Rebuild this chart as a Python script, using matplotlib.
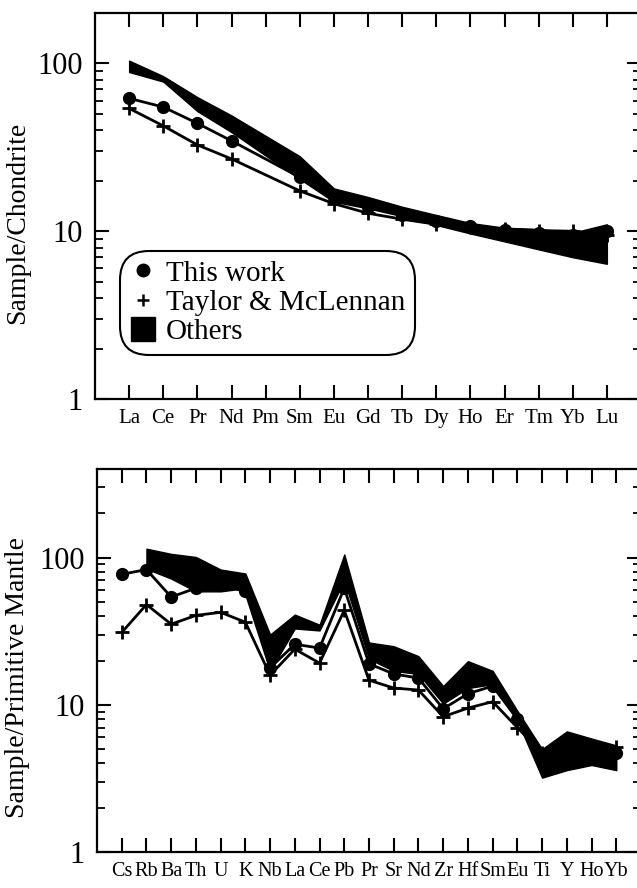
import numpy as np
import matplotlib
matplotlib.use("Agg")
import matplotlib.pyplot as plt
from matplotlib.lines import Line2D
from matplotlib.ticker import FuncFormatter, LogLocator, NullFormatter

plt.rcParams['font.family'] = ['Liberation Serif', 'DejaVu Serif']

# REE, chondrite normalised (Pm not analysed -> nan)
ree_labels = ["La", "Ce", "Pr", "Nd", "Pm", "Sm", "Eu", "Gd", "Tb", "Dy",
              "Ho", "Er", "Tm", "Yb", "Lu"]
ree_this_work = [62, 55, 44, 34.6, np.nan, 21, 16, 14, 12.5, 11.5,
                 10.8, 10.2, 9.8, 9.5, 10.0]
ree_taylor = [54, 42.5, 32.7, 27, np.nan, 17.4, 14.6, 12.8, 11.8, 11.0,
              10.6, 10.3, 10.1, 10.0, 9.5]
ree_others_low = [89, 78, 52, 39, np.nan, 20.5, 15.0, 13.7, 12.3, 10.9,
                  9.7, 8.7, 7.8, 7.0, 6.4]
ree_others_high = [104, 84, 63, 49, np.nan, 28, 18, 16, 14, 12.5,
                   11.2, 10.5, 10.3, 9.8, 11]

# spider diagram, primitive mantle normalised (Others not given for Cs)
pm_labels = ["Cs", "Rb", "Ba", "Th", "U", "K", "Nb", "La", "Ce", "Pb", "Pr",
             "Sr", "Nd", "Zr", "Hf", "Sm", "Eu", "Ti", "Y", "Ho", "Yb"]
pm_this_work = [77, 83, 54, 62, 65, 59, 17.8, 25.8, 24.3, 62, 19,
                16.2, 15.2, 9.4, 11.9, 13.4, 8.0, 4.4, 4.5, 4.6, 4.7]
pm_taylor = [31, 48, 35.3, 40.5, 42.5, 36.4, 15.9, 23.9, 19.2, 43.9, 14.7,
             13, 12.6, 8.3, 9.5, 10.5, 7.0, 4.7, 4.8, 4.9, 5.2]
pm_others_low = [np.nan, 84, 72, 59, 59, 62, 17, 33, 32, 70, 20.5,
                 17, 16.2, 10.2, 13, 13.8, 7.8, 3.2, 3.6, 3.9, 3.6]
pm_others_high = [np.nan, 115, 106, 101, 83, 78, 30, 41, 35, 105, 26.5,
                  25, 21.4, 13.4, 19.8, 17, 9.1, 5.0, 6.6, 5.9, 5.3]


def spider(ax, labels, this_work, taylor, low, high, ymax, ylabel, xfs,
           label_x):
    x = np.arange(len(labels))
    tw = np.array(this_work, dtype=float)
    tm = np.array(taylor, dtype=float)
    lo = np.array(low, dtype=float)
    hi = np.array(high, dtype=float)

    m = ~np.isnan(tw)
    ax.plot(x[m], tw[m], color="black", lw=2.0, marker="o", ms=8.5, zorder=2)
    m = ~np.isnan(tm)
    ax.plot(x[m], tm[m], color="black", lw=2.0, marker="+", ms=10, mew=2.0,
            zorder=2)
    m = ~np.isnan(lo)
    ax.fill_between(x[m], lo[m], hi[m], facecolor="black", edgecolor="black",
                    lw=1.0, zorder=3)

    ax.set_yscale("log")
    ax.set_ylim(1, ymax)
    ax.set_xlim(-1, len(labels))
    ax.set_xticks(x)
    ax.set_xticklabels(labels, fontsize=xfs)
    ax.yaxis.set_major_locator(LogLocator(base=10))
    ax.yaxis.set_minor_locator(LogLocator(base=10, subs=np.arange(2, 10)))
    ax.yaxis.set_major_formatter(FuncFormatter(lambda v, p: "%d" % v))
    ax.yaxis.set_minor_formatter(NullFormatter())
    ax.tick_params(axis="x", which="major", direction="in", top=True,
                   length=10, width=1.5, pad=7)
    ax.tick_params(axis="y", which="major", direction="in", right=True,
                   length=10, width=1.5, pad=9, labelsize=22)
    ax.tick_params(axis="y", which="minor", direction="in", right=True,
                   length=6, width=1.3)
    for s in ax.spines.values():
        s.set_linewidth(1.6)
    ax.set_ylabel(ylabel, fontsize=20)
    ax.yaxis.set_label_coords(label_x, 0.455)


fig = plt.figure(figsize=(6.37, 8.88), dpi=100)
W, H = 637.0, 888.0
ax1 = fig.add_axes([95 / W, 1 - 399 / H, (641 - 95) / W, (399 - 13) / H])
ax2 = fig.add_axes([97 / W, 1 - 852 / H, (641 - 97) / W, (852 - 469) / H])

spider(ax1, ree_labels, ree_this_work, ree_taylor, ree_others_low,
       ree_others_high, 200, "Sample/Chondrite", 15, -0.119)
spider(ax2, pm_labels, pm_this_work, pm_taylor, pm_others_low,
       pm_others_high, 400, "Sample/Primitive Mantle", 14.5, -0.123)

handles = [
    Line2D([], [], color="black", marker="o", ms=9, ls="none"),
    Line2D([], [], color="black", marker="+", ms=9, mew=1.8, ls="none"),
    Line2D([], [], color="black", marker="s", ms=17, ls="none"),
]
leg = ax1.legend(handles, ["This work", "Taylor & McLennan", "Others"],
                 loc="lower left", bbox_to_anchor=(0.0455, 0.114),
                 fontsize=21, frameon=True, handlelength=0.9,
                 handletextpad=0.35, labelspacing=0.1, borderpad=0.33,
                 borderaxespad=0.0)
frame = leg.get_frame()
frame.set_boxstyle("round,pad=0.0,rounding_size=1.0")
frame.set_edgecolor("black")
frame.set_linewidth(1.5)
frame.set_alpha(1.0)

fig.savefig("out.png", dpi=100)
